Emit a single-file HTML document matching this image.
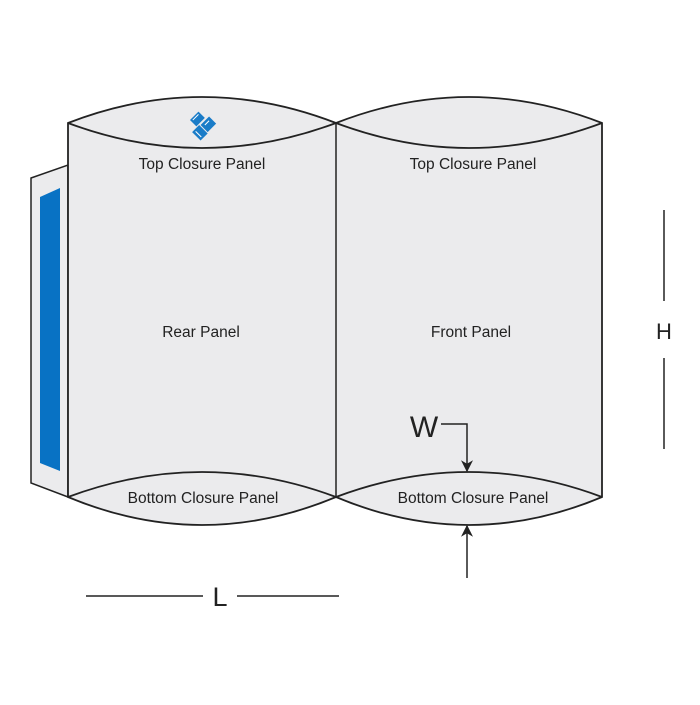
<!DOCTYPE html>
<html><head><meta charset="utf-8"><style>html,body{margin:0;padding:0;background:#fff}</style></head>
<body>
<svg width="700" height="700" viewBox="0 0 700 700" xmlns="http://www.w3.org/2000/svg" font-family="Liberation Sans, sans-serif">
<defs><marker id="ah" viewBox="0 0 10 10" refX="9" refY="5" markerWidth="12" markerHeight="12" orient="auto" markerUnits="userSpaceOnUse"><path d="M0,0 L10,5 L0,10 L3,5 z" fill="#222"/></marker></defs>
<polygon points="31,178 68,165 68,497 31,483" fill="#ebebed" stroke="#222" stroke-width="1.5"/>
<polygon points="40,197 60,188 60,471 40,463" fill="#0872c4"/>
<path d="M68,123 Q202,71 336,123 Q469,71 602,123 L602,497 Q469,553 336,497 Q202,553 68,497 Z" fill="#ebebed" stroke="#222" stroke-width="1.8"/>
<path d="M68,123 Q202,173 336,123 Q469,173 602,123" fill="none" stroke="#222" stroke-width="1.8"/>
<path d="M68,497 Q202,447 336,497 Q469,447 602,497" fill="none" stroke="#222" stroke-width="1.8"/>
<line x1="336" y1="123" x2="336" y2="497" stroke="#222" stroke-width="1.5"/>
<g transform="translate(202,125) rotate(-45)" fill="#1a7cc8">
<rect x="-12" y="-2" width="10" height="12"/>
<rect x="0" y="-2" width="10" height="12" transform="rotate(90 5 4)"/>
<rect x="-5" y="-12" width="12" height="9"/>
<line x1="-9" y1="0" x2="-9" y2="8" stroke="#fff" stroke-width="1"/>
<line x1="-3" y1="-10" x2="5" y2="-10" stroke="#fff" stroke-width="1"/>
<line x1="2" y1="2" x2="8" y2="2" stroke="#fff" stroke-width="1"/>
</g>
<g font-size="15.5" fill="#222" text-anchor="middle">
<text x="202" y="169">Top Closure Panel</text>
<text x="473" y="169">Top Closure Panel</text>
<text x="201" y="337">Rear Panel</text>
<text x="471" y="337">Front Panel</text>
<text x="203" y="503">Bottom Closure Panel</text>
<text x="473" y="503">Bottom Closure Panel</text>
</g>
<g stroke="#222" stroke-width="1.5" fill="none">
<line x1="664" y1="210" x2="664" y2="301"/>
<line x1="664" y1="358" x2="664" y2="449"/>
<line x1="86" y1="596" x2="203" y2="596"/>
<line x1="237" y1="596" x2="339" y2="596"/>
<polyline points="441,424 467,424 467,471" marker-end="url(#ah)"/>
<line x1="467" y1="578" x2="467" y2="526" marker-end="url(#ah)"/>
</g>
<g font-size="27" fill="#222" text-anchor="middle">
<text x="664" y="339" font-size="22">H</text>
<text x="220" y="606">L</text>
<text x="424" y="437" font-size="30">W</text>
</g>
</svg>
</body></html>
